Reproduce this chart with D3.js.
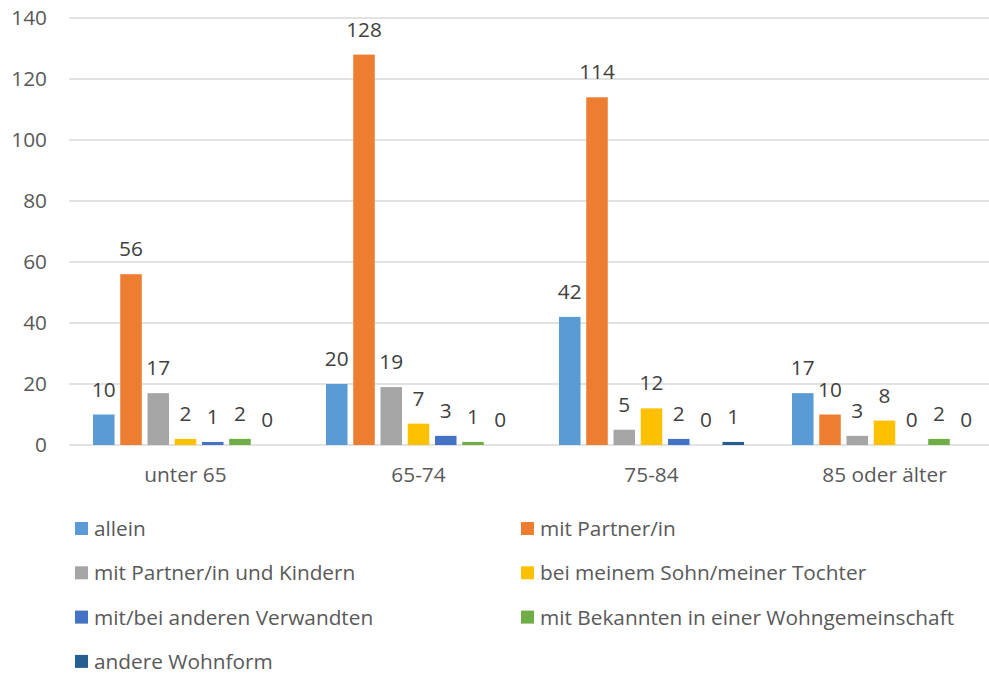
<!DOCTYPE html>
<html>
<head>
<meta charset="utf-8">
<script src="https://cdn.jsdelivr.net/npm/d3@7"></script>
<style>
  body { margin: 0; background: #fff; }
  text { font-family: "Open Sans", Lato, sans-serif; }
</style>
</head>
<body>
<div id="chart"></div>
<script>
// data
const categories = ["unter 65", "65-74", "75-84", "85 oder älter"]
const seriesNames = [
  "allein",
  "mit Partner/in",
  "mit Partner/in und Kindern",
  "bei meinem Sohn/meiner Tochter",
  "mit/bei anderen Verwandten",
  "mit Bekannten in einer Wohngemeinschaft",
  "andere Wohnform"
]
const allein     = [10, 20, 42, 17]
const mitPartner = [56, 128, 114, 10]
const mitKindern = [17, 19, 5, 3]
const beiKind    = [2, 7, 12, 8]
const verwandte  = [1, 3, 2, 0]
const bekannte   = [2, 1, 0, 2]
const andere     = [0, 0, 1, 0]
const yTicks = [0, 20, 40, 60, 80, 100, 120, 140]

const seriesValues = [allein, mitPartner, mitKindern, beiKind, verwandte, bekannte, andere]
const colors = ["#5B9BD5", "#ED7D31", "#A5A5A5", "#FFC000", "#4472C4", "#70AD47", "#255E91"]

const width = 989
const height = 674
const fontSize = 20.8

// plot area runs a bit past the right edge, like the original
const x = d3.scaleBand()
  .domain(categories)
  .range([69, 1001])

const xInner = d3.scaleBand()
  .domain(d3.range(seriesNames.length))
  .range([24, 209])
  .paddingInner(0.21)

const y = d3.scaleLinear()
  .domain([0, 140])
  .range([445, 18])

const svg = d3.select("#chart")
  .append("svg")
  .attr("width", width)
  .attr("height", height)

// gridlines
svg.append("g")
  .selectAll("line")
  .data(yTicks)
  .join("line")
    .attr("x1", 69)
    .attr("x2", 1001)
    .attr("y1", d => y(d))
    .attr("y2", d => y(d))
    .attr("stroke", "#D9D9D9")
    .attr("stroke-width", 1.3)

// y tick labels
svg.append("g")
  .selectAll("text")
  .data(yTicks)
  .join("text")
    .attr("x", 47)
    .attr("y", d => y(d))
    .attr("dy", "0.35em")
    .attr("text-anchor", "end")
    .attr("fill", "#595959")
    .attr("font-size", fontSize)
    .text(d => d)

// category labels
svg.append("g")
  .selectAll("text")
  .data(categories)
  .join("text")
    .attr("x", d => x(d) + x.bandwidth() / 2)
    .attr("y", 482)
    .attr("text-anchor", "middle")
    .attr("fill", "#595959")
    .attr("font-size", fontSize)
    .text(d => d)

// bars
const rows = []
categories.forEach((c, ci) => {
  seriesValues.forEach((vals, si) => {
    rows.push({ cat: c, s: si, value: vals[ci] })
  })
})

svg.append("g")
  .selectAll("rect")
  .data(rows)
  .join("rect")
    .attr("x", d => x(d.cat) + xInner(d.s))
    .attr("y", d => y(d.value))
    .attr("width", xInner.bandwidth())
    .attr("height", d => y(0) - y(d.value))
    .attr("fill", d => colors[d.s])

// value labels
svg.append("g")
  .selectAll("text")
  .data(rows)
  .join("text")
    .attr("x", d => x(d.cat) + xInner(d.s) + xInner.bandwidth() / 2)
    .attr("y", d => y(d.value) - 18)
    .attr("text-anchor", "middle")
    .attr("fill", "#404040")
    .attr("font-size", fontSize)
    .text(d => d.value)

// legend, two columns
const legend = svg.append("g")
  .selectAll("g")
  .data(seriesNames)
  .join("g")
    .attr("transform", (d, i) => `translate(${i % 2 === 0 ? 75 : 521},${536 + Math.floor(i / 2) * 44.3})`)

legend.append("rect")
  .attr("x", 0)
  .attr("y", -14)
  .attr("width", 13)
  .attr("height", 13)
  .attr("fill", (d, i) => colors[i])

legend.append("text")
  .attr("x", 19)
  .attr("y", 0)
  .attr("fill", "#595959")
  .attr("font-size", fontSize)
  .text(d => d)
</script>
</body>
</html>
